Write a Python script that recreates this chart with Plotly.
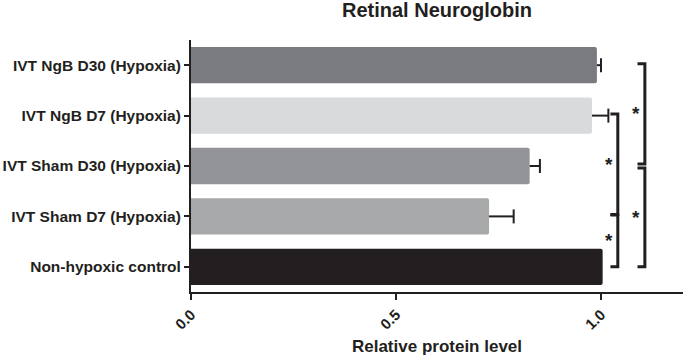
import plotly.graph_objects as go

categories = ["Non-hypoxic control", "IVT Sham D7 (Hypoxia)", "IVT Sham D30 (Hypoxia)",
              "IVT NgB D7 (Hypoxia)", "IVT NgB D30 (Hypoxia)"]
values = [1.004, 0.727, 0.826, 0.978, 0.990]
errors = [0.0, 0.060, 0.025, 0.040, 0.010]
bar_colors = ["#231f20", "#a7a8aa", "#929497", "#d9dadb", "#7a7b7e"]
x_ticks = [0.0, 0.5, 1.0]
# significance brackets: (category A, category B, x level)
comparisons = [
    ("IVT NgB D30 (Hypoxia)", "IVT Sham D30 (Hypoxia)", 1.107),
    ("IVT Sham D30 (Hypoxia)", "Non-hypoxic control", 1.107),
    ("IVT NgB D7 (Hypoxia)", "IVT Sham D7 (Hypoxia)", 1.041),
    ("IVT Sham D7 (Hypoxia)", "Non-hypoxic control", 1.041),
]

ink = "#231f20"
font_fam = "Liberation Sans, Arial, sans-serif"

fig = go.Figure()
fig.add_trace(go.Bar(
    y=categories, x=values, orientation="h",
    marker=dict(color=bar_colors, line=dict(width=0), cornerradius=2),
    showlegend=False, hoverinfo="skip",
))

# one-sided error bars (stem + cap)
ex, ey, cx, cy = [], [], [], []
for c, v, e in zip(categories, values, errors):
    if e > 0:
        ex += [v, v + e, None]
        ey += [c, c, None]
        cx.append(v + e)
        cy.append(c)
fig.add_trace(go.Scatter(x=ex, y=ey, mode="lines", line=dict(color=ink, width=2),
                         showlegend=False, hoverinfo="skip"))
fig.add_trace(go.Scatter(x=cx, y=cy, mode="markers",
                         marker=dict(symbol="line-ns-open", size=10, color=ink,
                                     line=dict(color=ink, width=2)),
                         showlegend=False, hoverinfo="skip"))

idx = {c: i for i, c in enumerate(categories)}
tick = 0.018
for a, b, xl in comparisons:
    ia, ib = idx[a], idx[b]
    top, bot = max(ia, ib), min(ia, ib)
    y1 = top - 0.04 if top == 2 else top + 0.03
    y0 = bot + 0.04 if bot > 0 else bot
    fig.add_shape(type="path", xref="x", yref="y",
                  path=f"M {xl - tick} {y1} L {xl} {y1} L {xl} {y0} L {xl - tick} {y0}",
                  line=dict(color=ink, width=3))
    fig.add_annotation(x=xl - 0.008, y=(y0 + y1) / 2, xref="x", yref="y", text="<b>*</b>",
                       showarrow=False, xanchor="right", yanchor="middle",
                       font=dict(size=19, color=ink, family=font_fam))

fig.update_layout(
    width=685, height=356,
    margin=dict(l=191, r=2, t=40, b=64),
    paper_bgcolor="white", plot_bgcolor="white",
    bargap=0.28,
    font=dict(family=font_fam, color=ink),
    title=dict(text="<b>Retinal Neuroglobin</b>", xref="paper", x=0.5, xanchor="center",
               yref="container", y=0.972, yanchor="middle",
               font=dict(size=20, color=ink)),
    xaxis=dict(range=[0, 1.2], tickvals=x_ticks, tickformat=".1f", tickangle=-45,
               showline=True, linecolor=ink, linewidth=2, ticks="outside", ticklen=6, tickwidth=2,
               tickcolor=ink, showgrid=False, zeroline=False, automargin=False,
               tickfont=dict(size=15, family=font_fam, weight="bold"),
               title=dict(text="<b>Relative protein level</b>", font=dict(size=17), standoff=10)),
    yaxis=dict(categoryorder="array", categoryarray=categories,
               showline=True, linecolor=ink, linewidth=2, ticks="outside", ticklen=5, tickwidth=2,
               tickcolor=ink, showgrid=False, zeroline=False, range=[-0.5, 4.5], automargin=False,
               tickfont=dict(size=15.5, family=font_fam, weight="bold")),
)
fig.write_html("out.html", config={"displayModeBar": False},
               post_script="document.body.style.margin='0';")
